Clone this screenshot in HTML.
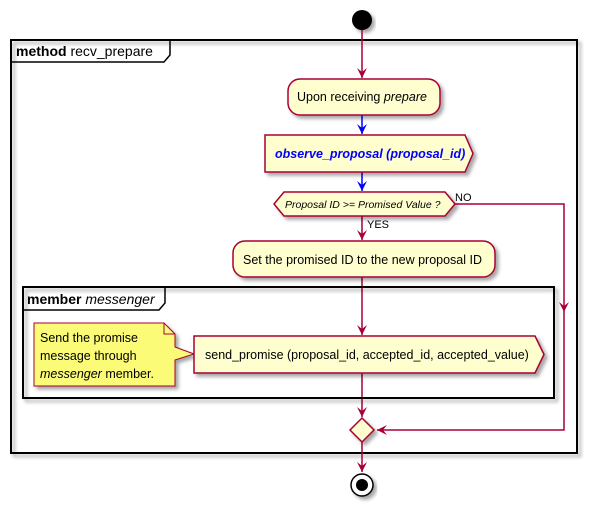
<!DOCTYPE html>
<html><head><style>html,body{margin:0;padding:0;background:#fff}svg{display:block}</style></head>
<body>
<svg width="593" height="513" viewBox="0 0 593 513" xmlns="http://www.w3.org/2000/svg" font-family="Liberation Sans, DejaVu Sans, sans-serif">
<defs>
<filter id="sh" x="-10%" y="-10%" width="130%" height="140%"><feDropShadow dx="3" dy="3" stdDeviation="1.8" flood-color="#000" flood-opacity="0.35"/></filter>
<marker id="ar" markerWidth="12" markerHeight="12" refX="10" refY="5" orient="auto" markerUnits="userSpaceOnUse"><path d="M0,0 L10,5 L0,10 L4,5 Z" fill="#A80036"/></marker>
<marker id="ab" markerWidth="12" markerHeight="12" refX="10" refY="5" orient="auto" markerUnits="userSpaceOnUse"><path d="M0,0 L10,5 L0,10 L4,5 Z" fill="#0000FF"/></marker>
</defs>
<!-- start -->
<circle cx="362" cy="20" r="10" fill="#000" filter="url(#sh)"/>
<!-- outer frame -->
<rect x="11" y="40" width="566" height="413" fill="none" stroke="#000" stroke-width="2" filter="url(#sh)"/>
<path d="M11,62 L164,62 L170,55 L170,40" fill="none" stroke="#000" stroke-width="1.5"/>
<text x="16" y="56" font-size="14"><tspan font-weight="bold">method</tspan> recv_prepare</text>
<!-- arrows -->
<line x1="362" y1="30" x2="362" y2="78" stroke="#A80036" stroke-width="1.5" marker-end="url(#ar)"/>
<line x1="362" y1="115" x2="362" y2="134" stroke="#0000FF" stroke-width="1.5" marker-end="url(#ab)"/>
<line x1="362" y1="172" x2="362" y2="191" stroke="#0000FF" stroke-width="1.5" marker-end="url(#ab)"/>
<line x1="362" y1="216" x2="362" y2="240" stroke="#A80036" stroke-width="1.5" marker-end="url(#ar)"/>
<line x1="362" y1="277" x2="362" y2="335" stroke="#A80036" stroke-width="1.5" marker-end="url(#ar)"/>
<line x1="362" y1="373" x2="362" y2="417" stroke="#A80036" stroke-width="1.5" marker-end="url(#ar)"/>
<line x1="362" y1="442" x2="362" y2="472" stroke="#A80036" stroke-width="1.5" marker-end="url(#ar)"/>
<polyline points="455,204 564,204 564,430 377,430" fill="none" stroke="#A80036" stroke-width="1.5" marker-end="url(#ar)"/>
<path d="M559,302 L564,312 L569,302 L564,306 Z" fill="#A80036"/>
<!-- box1 -->
<rect x="288" y="79" width="152" height="36" rx="12" fill="#FEFECE" stroke="#A80036" stroke-width="1.5" filter="url(#sh)"/>
<text x="297" y="101" font-size="12.5">Upon receiving <tspan font-style="italic">prepare</tspan></text>
<!-- box2 -->
<path d="M265,135 L465,135 L473,153.5 L465,172 L265,172 Z" fill="#FEFECE" stroke="#A80036" stroke-width="1.5" filter="url(#sh)"/>
<text x="275" y="158" font-size="12.5" font-weight="bold" font-style="italic" fill="#0000FF">observe_proposal (proposal_id)</text>
<!-- decision -->
<path d="M274,204 L284,192 L445,192 L455,204 L445,216 L284,216 Z" fill="#FEFECE" stroke="#A80036" stroke-width="1.5" filter="url(#sh)"/>
<text x="285" y="208" font-size="10.5" font-style="italic">Proposal ID &gt;= Promised Value ?</text>
<text x="455" y="201" font-size="11">NO</text>
<text x="367" y="228" font-size="11">YES</text>
<!-- box3 -->
<rect x="233" y="241" width="262" height="36" rx="12" fill="#FEFECE" stroke="#A80036" stroke-width="1.5" filter="url(#sh)"/>
<text x="243" y="264" font-size="12.5">Set the promised ID to the new proposal ID</text>
<!-- inner frame -->
<rect x="23" y="287" width="531" height="111" fill="none" stroke="#000" stroke-width="2" filter="url(#sh)"/>
<path d="M23,310 L159,310 L165,303 L165,287" fill="none" stroke="#000" stroke-width="1.5"/>
<text x="27" y="304" font-size="14"><tspan font-weight="bold">member</tspan> <tspan font-style="italic">messenger</tspan></text>
<!-- note -->
<path d="M34,323 L164,323 L175,334 L175,347 L194,354 L175,360 L175,386 L34,386 Z" fill="#FBFB77" stroke="#A80036" stroke-width="1" filter="url(#sh)"/>
<path d="M164,323 L164,334 L175,334" fill="none" stroke="#A80036" stroke-width="1"/>
<text x="40" y="342" font-size="12.5">Send the promise</text>
<text x="40" y="360" font-size="12.5">message through</text>
<text x="40" y="378" font-size="12.5"><tspan font-style="italic">messenger</tspan> member.</text>
<!-- send box -->
<path d="M194,336 L535,336 L544,354.5 L535,373 L194,373 Z" fill="#FEFECE" stroke="#A80036" stroke-width="1.5" filter="url(#sh)"/>
<text x="205" y="359" font-size="12.5">send_promise (proposal_id, accepted_id, accepted_value)</text>
<!-- merge -->
<path d="M362,418 L374,430 L362,442 L350,430 Z" fill="#FEFECE" stroke="#A80036" stroke-width="1.5" filter="url(#sh)"/>
<!-- end -->
<circle cx="362" cy="485" r="11" fill="#fff" stroke="#000" stroke-width="1.5" filter="url(#sh)"/>
<circle cx="362" cy="485" r="6" fill="#000"/>
</svg>
</body></html>
